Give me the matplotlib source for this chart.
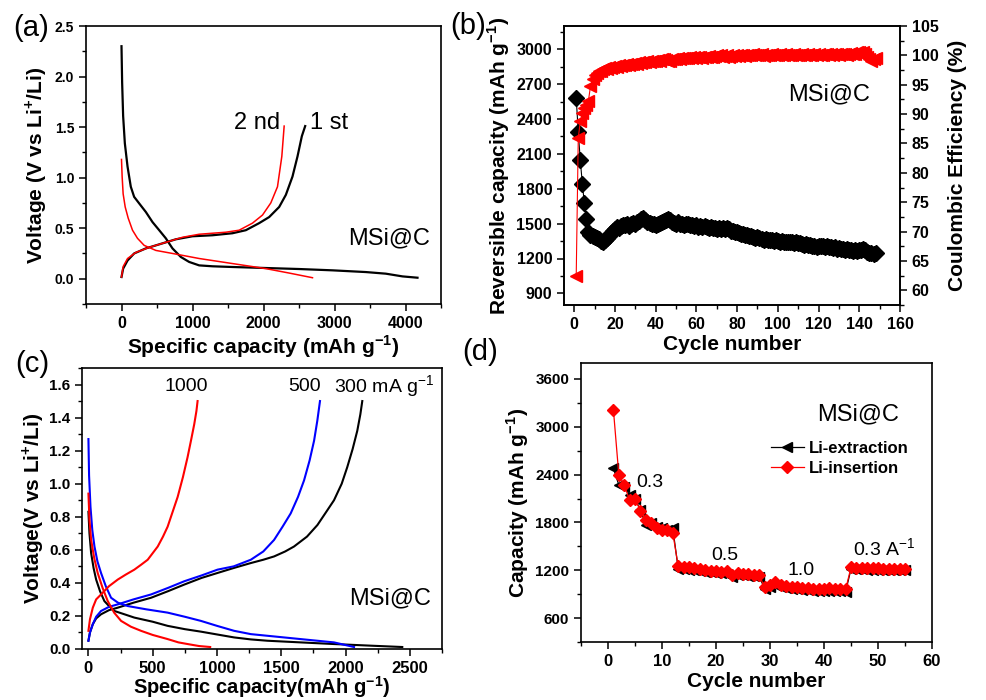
import numpy as np
import matplotlib
matplotlib.use("Agg")
import matplotlib.pyplot as plt
from matplotlib.ticker import MultipleLocator

# ---- (a) 1st / 2nd discharge-charge profiles at MSi@C ----
a_dis1_cap = [0, 9, 23, 47, 85, 131, 178, 249, 343, 437, 531, 624, 718, 836, 953, 1094,
              1282, 1563, 2033, 2502, 2972, 3441, 3723, 3958, 4169]
a_dis1_v = [2.30, 1.94, 1.61, 1.34, 1.11, 0.91, 0.81, 0.745, 0.66, 0.56, 0.48, 0.40, 0.30,
            0.215, 0.166, 0.132, 0.123, 0.116, 0.106, 0.096, 0.083, 0.066, 0.05, 0.023, 0.01]
a_chg1_cap = [0, 23, 85, 178, 343, 531, 765, 1000, 1282, 1563, 1751, 1939, 2080, 2221,
              2315, 2408, 2479, 2540, 2587]
a_chg1_v = [0.017, 0.10, 0.18, 0.25, 0.30, 0.34, 0.39, 0.42, 0.43, 0.45, 0.48, 0.55, 0.61,
            0.71, 0.83, 1.01, 1.21, 1.41, 1.51]
a_dis2_cap = [0, 9, 23, 52, 94, 155, 225, 319, 484, 718, 1094, 1563, 2033, 2362, 2690]
a_dis2_v = [1.18, 1.01, 0.84, 0.71, 0.60, 0.48, 0.40, 0.33, 0.28, 0.25, 0.20, 0.15, 0.10,
            0.056, 0.01]
a_chg2_cap = [0, 23, 85, 202, 390, 624, 859, 1094, 1469, 1657, 1845, 1986, 2103, 2197,
              2258, 2291]
a_chg2_v = [0.017, 0.12, 0.20, 0.26, 0.31, 0.36, 0.41, 0.44, 0.46, 0.48, 0.55, 0.63, 0.75,
            0.91, 1.21, 1.51]

# ---- (b) cycling at 300 mA/g ----
b_cap = [2580, 2290, 2045, 1845, 1675, 1540, 1430, 1405, 1395, 1385,
         1375, 1365, 1350, 1340, 1355, 1375, 1395, 1420, 1440, 1455,
         1470, 1465, 1480, 1490, 1485, 1495, 1480, 1500, 1505, 1495,
         1510, 1525, 1540, 1550, 1530, 1515, 1505, 1500, 1495, 1490,
         1495, 1505, 1510, 1520, 1530, 1540, 1535, 1515, 1505, 1500,
         1510, 1495, 1500, 1490, 1495, 1500, 1485, 1490, 1480, 1490,
         1475, 1480, 1470, 1480, 1475, 1465, 1470, 1460, 1465, 1455,
         1460, 1450, 1465, 1455, 1460, 1450, 1440, 1435, 1425, 1430,
         1420, 1415, 1410, 1405, 1400, 1395, 1390, 1385, 1380, 1385,
         1375, 1365, 1360, 1365, 1355, 1360, 1355, 1350, 1355, 1350,
         1345, 1350, 1345, 1340, 1345, 1340, 1345, 1335, 1340, 1335,
         1330, 1325, 1320, 1322, 1315, 1312, 1308, 1305, 1302, 1305,
         1305, 1310, 1300, 1305, 1295, 1300, 1290, 1295, 1285, 1290,
         1280, 1285, 1275, 1280, 1270, 1275, 1265, 1270, 1265, 1270,
         1275, 1280, 1270, 1255, 1250, 1245, 1240, 1245]
b_ce = [62.5, 85.9, 88.8, 90.2, 91.0, 91.6, 92.3, 94.7, 96.0, 96.7,
        97.0, 97.3, 97.4, 97.6, 97.8, 97.7, 98.0, 97.9, 98.1, 98.2,
        98.0, 98.3, 98.2, 98.4, 98.3, 98.5, 98.4, 98.6, 98.5, 98.7,
        98.6, 98.8, 98.7, 98.9, 98.8, 99.0, 98.9, 99.0, 99.1, 99.0,
        99.2, 99.1, 99.3, 99.4, 99.2, 99.0, 99.1, 99.3, 99.4, 99.3,
        99.5, 99.4, 99.5, 99.6, 99.5, 99.6, 99.7, 99.6, 99.7, 99.6,
        99.8, 99.7, 99.6, 99.8, 99.7, 99.9, 99.8, 99.7, 99.9, 100.0,
        99.9, 100.1, 99.8, 99.9, 100.0, 99.8, 99.9, 100.0, 99.9, 100.0,
        99.9, 100.0, 100.1, 99.9, 100.0, 100.1, 100.0, 100.2, 100.1, 100.0,
        100.1, 100.2, 99.9, 100.0, 100.1, 100.0, 100.2, 100.1, 100.0, 100.1,
        100.2, 100.1, 100.0, 100.2, 100.1, 100.0, 100.1, 100.2, 100.1, 100.0,
        100.1, 100.2, 100.0, 100.1, 100.2, 100.1, 100.0, 100.2, 100.1, 100.2,
        100.1, 100.0, 100.2, 100.3, 100.1, 100.2, 100.1, 100.3, 100.2, 100.1,
        100.2, 100.3, 100.2, 100.1, 100.3, 100.4, 100.2, 100.3, 100.5, 100.6,
        100.4, 100.5, 100.3, 99.8, 99.4, 99.0, 99.3, 99.6]
b_cycle = np.arange(1, len(b_cap) + 1)

# ---- (c) rate-dependent profiles (300 / 500 / 1000 mA g-1) ----
c300_dis_cap = [0, 8, 21, 40, 60, 90, 124, 160, 202, 280, 357, 500, 616, 750, 875, 1000,
                1133, 1263, 1392, 1650, 1910, 2200, 2441]
c300_dis_v = [0.83, 0.70, 0.58, 0.49, 0.42, 0.35, 0.29, 0.26, 0.23, 0.21, 0.19, 0.165, 0.14,
              0.12, 0.105, 0.088, 0.07, 0.058, 0.05, 0.04, 0.03, 0.02, 0.012]
c300_chg_cap = [0, 12, 34, 60, 98, 160, 228, 350, 487, 620, 746, 880, 1004, 1130, 1263, 1360,
                1444, 1530, 1599, 1700, 1781, 1850, 1910, 1970, 2013, 2055, 2091, 2115, 2130]
c300_chg_v = [0.05, 0.10, 0.15, 0.185, 0.21, 0.235, 0.25, 0.28, 0.31, 0.35, 0.39, 0.43, 0.46,
              0.49, 0.52, 0.54, 0.56, 0.59, 0.62, 0.68, 0.75, 0.83, 0.90, 1.00, 1.10, 1.21,
              1.32, 1.42, 1.50]
c500_dis_cap = [0, 5, 16, 30, 47, 70, 98, 135, 176, 230, 305, 450, 616, 750, 875, 1000, 1133,
                1263, 1392, 1650, 1910, 2066]
c500_dis_v = [1.27, 1.05, 0.86, 0.72, 0.62, 0.53, 0.46, 0.38, 0.31, 0.28, 0.26, 0.24, 0.22,
              0.195, 0.17, 0.14, 0.11, 0.09, 0.08, 0.06, 0.04, 0.012]
c500_chg_cap = [0, 12, 34, 60, 98, 160, 228, 350, 487, 620, 746, 880, 1004, 1130, 1263, 1360,
                1444, 1510, 1573, 1630, 1677, 1720, 1755, 1780, 1801]
c500_chg_v = [0.05, 0.10, 0.15, 0.195, 0.23, 0.255, 0.27, 0.30, 0.33, 0.37, 0.41, 0.445, 0.48,
              0.50, 0.54, 0.59, 0.66, 0.74, 0.82, 0.92, 1.02, 1.14, 1.26, 1.38, 1.50]
c1000_dis_cap = [0, 8, 21, 45, 72, 110, 150, 200, 254, 330, 409, 500, 616, 700, 771, 860, 947]
c1000_dis_v = [0.94, 0.78, 0.66, 0.55, 0.46, 0.37, 0.29, 0.22, 0.17, 0.135, 0.11, 0.085, 0.06,
               0.04, 0.03, 0.018, 0.012]
c1000_chg_cap = [0, 12, 34, 60, 98, 160, 228, 290, 357, 410, 461, 500, 539, 580, 616, 655, 694,
                 735, 771, 800, 823, 840, 849]
c1000_chg_v = [0.11, 0.18, 0.25, 0.30, 0.33, 0.38, 0.42, 0.45, 0.48, 0.51, 0.54, 0.58, 0.62,
               0.68, 0.74, 0.83, 0.92, 1.04, 1.16, 1.27, 1.36, 1.44, 1.50]

# ---- (d) rate capability ----
d_ext = [2480, 2270, 2250, 2145, 2100, 1955, 1770, 1790, 1745, 1725,
         1710, 1725, 1220, 1210, 1205, 1200, 1190, 1180, 1175, 1170,
         1160, 1150, 1120, 1140, 1135, 1130, 1125, 1120, 970, 990,
         1010, 990, 975, 965, 960, 955, 950, 945, 940, 935,
         945, 940, 935, 930, 1215, 1210, 1210, 1208, 1207, 1206,
         1205, 1204, 1203, 1202, 1200]
d_ins = [3214, 2400, 2270, 2080, 2100, 1945, 1830, 1795, 1725, 1705,
         1700, 1670, 1250, 1245, 1235, 1225, 1215, 1200, 1195, 1185,
         1175, 1195, 1140, 1160, 1155, 1150, 1145, 1140, 985, 1010,
         1050, 1010, 1000, 990, 985, 980, 975, 970, 965, 960,
         975, 970, 965, 960, 1235, 1230, 1230, 1228, 1225, 1225,
         1222, 1222, 1220, 1220, 1218]
d_cycle = np.arange(1, len(d_ext) + 1)

# ---- style ----
plt.rcParams['font.family'] = ['Liberation Sans', 'DejaVu Sans']
plt.rcParams['mathtext.fontset'] = 'custom'
plt.rcParams['mathtext.rm'] = 'Liberation Sans'
plt.rcParams['mathtext.bf'] = 'Liberation Sans:bold'
plt.rcParams['axes.linewidth'] = 1.2
for k in ('xtick', 'ytick'):
    plt.rcParams[k + '.direction'] = 'out'
    plt.rcParams[k + '.major.size'] = 5
    plt.rcParams[k + '.minor.size'] = 3
    plt.rcParams[k + '.major.width'] = 1.1
    plt.rcParams[k + '.minor.width'] = 1.0

W, H = 987, 700
fig = plt.figure(figsize=(W / 100, H / 100), dpi=100)


def box(x0, y0, x1, y1):
    return [x0 / W, 1 - y1 / H, (x1 - x0) / W, (y1 - y0) / H]


def style(ax, fs=11):
    for lab in ax.get_xticklabels() + ax.get_yticklabels():
        lab.set_fontweight('bold')
    ax.tick_params(labelsize=fs)


lab_kw = dict(fontsize=15, fontweight='bold')
ann_kw = dict(fontsize=17, ha='center', va='center')

# (a)
ax = fig.add_axes(box(86, 26, 441, 304))
ax.plot(a_dis1_cap, a_dis1_v, color='black', lw=1.6)
ax.plot(a_chg1_cap, a_chg1_v, color='black', lw=1.6)
ax.plot(a_dis2_cap, a_dis2_v, color='red', lw=1.1)
ax.plot(a_chg2_cap, a_chg2_v, color='red', lw=1.1)
ax.set_xlim(-500, 4500)
ax.set_ylim(-0.25, 2.5)
ax.xaxis.set_major_locator(MultipleLocator(1000))
ax.xaxis.set_minor_locator(MultipleLocator(500))
ax.yaxis.set_major_locator(MultipleLocator(0.5))
ax.yaxis.set_minor_locator(MultipleLocator(0.25))
ax.set_xticks([0, 1000, 2000, 3000, 4000])
ax.set_xlabel(r'Specific capacity (mAh g$^{\mathbf{-1}}$)', labelpad=2, **lab_kw)
ax.set_ylabel(r'Voltage (V vs Li$^{\mathbf{+}}$/Li)', labelpad=4, **lab_kw)
style(ax, 11.5)
ax.tick_params(axis='y', labelsize=10)
ax.text(1915, 1.54, '2 nd', **ann_kw)
ax.text(2930, 1.54, '1 st', **ann_kw)
ax.text(3775, 0.40, 'MSi@C', **ann_kw)

# (b)
ax = fig.add_axes(box(564, 26, 900, 305))
ax.plot(b_cycle, b_cap, color='black', lw=0.8, marker='D', ms=8,
        mfc='black', mec='black')
ax.set_xlim(-5, 160)
ax.set_ylim(800, 3200)
ax.xaxis.set_major_locator(MultipleLocator(20))
ax.xaxis.set_minor_locator(MultipleLocator(10))
ax.yaxis.set_major_locator(MultipleLocator(300))
ax.yaxis.set_minor_locator(MultipleLocator(150))
ax.set_yticks(np.arange(900, 3001, 300))
ax.set_xlabel('Cycle number', labelpad=2, **lab_kw)
ax.set_ylabel(r'Reversible capacity (mAh g$^{\mathbf{-1}}$)', labelpad=3, **lab_kw)
style(ax, 11.5)
ax.text(125, 2610, 'MSi@C', **ann_kw)
ax2 = ax.twinx()
ax2.plot(b_cycle, b_ce, color='red', lw=0.8, marker='<', ms=9, mfc='red', mec='red')
ax2.set_ylim(57.5, 105)
ax2.yaxis.set_major_locator(MultipleLocator(5))
ax2.yaxis.set_minor_locator(MultipleLocator(2.5))
ax2.set_yticks(np.arange(60, 106, 5))
ax2.set_ylabel('Coulombic Efficiency (%)', labelpad=7, **lab_kw)
style(ax2, 11.5)

# (c)
ax = fig.add_axes(box(82, 368, 442, 649))
ax.plot(c300_dis_cap, c300_dis_v, color='black', lw=1.5)
ax.plot(c300_chg_cap, c300_chg_v, color='black', lw=1.5)
ax.plot(c500_dis_cap, c500_dis_v, color='blue', lw=1.5)
ax.plot(c500_chg_cap, c500_chg_v, color='blue', lw=1.5)
ax.plot(c1000_dis_cap, c1000_dis_v, color='red', lw=1.5)
ax.plot(c1000_chg_cap, c1000_chg_v, color='red', lw=1.5)
ax.set_xlim(-50, 2750)
ax.set_ylim(0, 1.7)
ax.xaxis.set_major_locator(MultipleLocator(500))
ax.xaxis.set_minor_locator(MultipleLocator(250))
ax.yaxis.set_major_locator(MultipleLocator(0.2))
ax.yaxis.set_minor_locator(MultipleLocator(0.1))
ax.set_xticks(np.arange(0, 2501, 500))
ax.set_xlabel(r'Specific capacity(mAh g$^{\mathbf{-1}}$)', labelpad=-1, fontsize=14.5,
              fontweight='bold')
ax.set_ylabel(r'Voltage(V vs Li$^{\mathbf{+}}$/Li)', labelpad=2, **lab_kw)
style(ax)
ax.tick_params(axis='x', labelsize=12)
ax.text(758, 1.586, '1000', fontsize=14, ha='center', va='center')
ax.text(1682, 1.586, '500', fontsize=14, ha='center', va='center')
ax.text(2298, 1.586, r'300 mA g$^{\mathrm{-1}}$', fontsize=14, ha='center', va='center')
ax.text(2349, 0.307, 'MSi@C', **ann_kw)

# (d)
ax = fig.add_axes(box(581, 363, 932, 642))
ax.plot(d_cycle, d_ext, color='black', lw=0.9, marker='<', ms=7,
        mfc='black', mec='black', label='Li-extraction')
ax.plot(d_cycle, d_ins, color='red', lw=0.9, marker='D', ms=6.5,
        mfc='red', mec='red', label='Li-insertion')
ax.set_xlim(-5, 60)
ax.set_ylim(300, 3800)
ax.xaxis.set_major_locator(MultipleLocator(10))
ax.xaxis.set_minor_locator(MultipleLocator(5))
ax.yaxis.set_major_locator(MultipleLocator(600))
ax.yaxis.set_minor_locator(MultipleLocator(300))
ax.set_xticks(np.arange(0, 61, 10))
ax.set_yticks(np.arange(600, 3601, 600))
ax.set_xlabel('Cycle number', labelpad=2, **lab_kw)
ax.set_ylabel(r'Capacity (mAh g$^{\mathbf{-1}}$)', labelpad=3, **lab_kw)
style(ax)
ax.tick_params(axis='x', labelsize=12)
ax.legend(loc='upper left', bbox_to_anchor=(0.54, 0.72), frameon=False,
          borderpad=0, borderaxespad=0, handlelength=2.0, handletextpad=0.3,
          labelspacing=0.3, prop=dict(size=12, weight='bold'))
ax.text(46.4, 3150, 'MSi@C', **ann_kw)
ax.text(7.8, 2300, '0.3', fontsize=14, ha='center', va='center')
ax.text(21.6, 1390, '0.5', fontsize=14, ha='center', va='center')
ax.text(35.7, 1200, '1.0', fontsize=14, ha='center', va='center')
ax.text(51.1, 1470, r'0.3 A$^{\mathrm{-1}}$', fontsize=14, ha='center', va='center')

# panel tags
for tag, px, py in [('(a)', 31, 28), ('(b)', 468, 26), ('(c)', 32, 364), ('(d)', 480, 352)]:
    fig.text(px / W, 1 - py / H, tag, fontsize=21, ha='center', va='center')

fig.savefig('out.png', dpi=100)
